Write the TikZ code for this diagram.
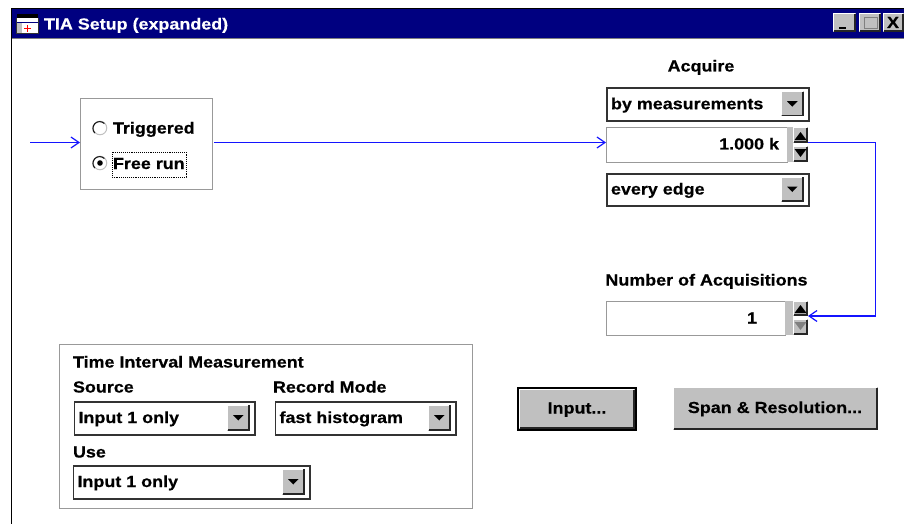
\documentclass[tikz,border=0pt]{standalone}
\usepackage{fontspec}
\setmainfont{Liberation Sans}[FakeStretch=1.12,BoldFeatures={FakeBold=0.5}]
\usetikzlibrary{arrows.meta,calc}
\definecolor{navy}{RGB}{0,0,128}
\definecolor{wingray}{RGB}{192,192,192}
\definecolor{windark}{RGB}{128,128,128}
\definecolor{wire}{RGB}{20,20,255}
\tikzset{
  x=1pt,y=-1pt,
  ui/.style={font=\fontsize{16}{18}\selectfont\bfseries,inner sep=0pt,outer sep=0pt,text=black,text height=11pt,text depth=3pt,yshift=-1.5pt},
  lbl/.style={ui,anchor=west},
  wirel/.style={draw=wire,line width=1.8pt,-{Straight Barb[length=8pt,width=11pt,line width=1.2pt]}},
  panel/.style={draw=windark!80,line width=1.3pt,fill=white},
  fieldbox/.style={draw=black!80,line width=1.6pt,fill=white},
  spinbox/.style={draw=windark!80,line width=1.3pt,fill=white},
  radio/.style={draw=wingray,line width=1pt,circle,minimum size=13.5pt,inner sep=0pt},
}
% raised 3D button: x1 y1 x2 y2
\newcommand{\raisedbtn}[4]{%
  \fill[wingray] (#1,#2) rectangle (#3,#4);
  \draw[white,line width=1.4pt] (#1+.7,#4-1) -- (#1+.7,#2+.7) -- (#3-1,#2+.7);
  \draw[black!85,line width=1.6pt] (#1+.8,#4-.8) -- (#3-.8,#4-.8) -- (#3-.8,#2+.8);
}
% drop-down: name x1 y1 x2 y2 text
\newcommand{\dropbox}[6]{%
  \node[fieldbox,anchor=north west,minimum width=#4-#2,minimum height=#5-#3,inner sep=0pt] (#1) at (#2,#3) {};
  \node[lbl] (#1text) at (#2+5,{(#3+#5)/2}) {#6};
  \raisedbtn{#4-27}{#3+3.5}{#4-4.5}{#5-3.5}
  \fill[black] (#4-21,{(#3+#5)/2-2.5}) -- (#4-10.5,{(#3+#5)/2-2.5}) -- (#4-15.75,{(#3+#5)/2+3}) -- cycle;
}
\begin{document}
\begin{tikzpicture}
\useasboundingbox (0,0) rectangle (904,524);
\fill[white] (0,0) rectangle (904,524);
% window
\fill[navy] (11,9) rectangle (904,38);
\draw[black,line width=1.2pt] (904,8.6) -- (11.6,8.6) -- (11.6,524);
\draw[windark,line width=1pt] (12,38.5) -- (904,38.5);
% title icon
\fill[black] (17,14) rectangle (38,18);
\fill[white] (16,18) rectangle (39,33.5);
\fill[wingray] (16,22) rectangle (22,33.5);
\draw[navy,line width=.9pt] (16,22) -- (39,22);
\draw[black!80,line width=.8pt] (16.4,18) -- (16.4,33.6) -- (38.6,33.6) -- (38.6,18);
\draw[red,line width=1.6pt] (27.5,25) -- (27.5,32) (24,28.5) -- (31,28.5);
\node[lbl,text=white] (title) at (44,24) {TIA Setup (expanded)};
% window buttons
\raisedbtn{833}{13}{856}{32}
\fill[black] (839,27) rectangle (846,29);
\raisedbtn{859}{13}{881}{32}
\draw[windark,line width=1pt] (864,17.5) rectangle (877,29);
\raisedbtn{883}{13}{904}{32}
\node[ui] (closex) at (893,22.5) {X};
% trigger box
\node[panel,anchor=north west,minimum width=132pt,minimum height=91pt] (triggerbox) at (80,98) {};
\node[radio] (radioa) at (100,128) {};
\node[radio] (radiob) at (100,163) {};
\draw[black!90,line width=1.1pt] (radioa.south west) arc[start angle=225,end angle=45,radius=6.75pt];
\draw[black!90,line width=1.1pt] (radiob.south west) arc[start angle=225,end angle=45,radius=6.75pt];
\fill[black] (radiob.center) circle (2.8);
\node[lbl] (triggered) at (113,128) {Triggered};
\node[lbl] (freerun) at (113,163.5) {Free run};
\draw[black,line width=.9pt,densely dotted] (112,152) rectangle (186,177);
% Acquire
\node[ui] (acquire) at (701,66) {Acquire};
\dropbox{bymeas}{606}{87.5}{808}{120}{by measurements}
\node[spinbox,anchor=north west,minimum width=181pt,minimum height=34.5pt] (acqfield) at (606,127) {};
\node[ui,anchor=east] (acqval) at (779,144) {1.000\hspace{5pt}k};
\fill[wingray] (787,127) rectangle (793,162);
\raisedbtn{793}{127}{808}{143}
\raisedbtn{793}{146}{808}{162}
\fill[black] (794.5,140) -- (806.5,140) -- (800.5,132) -- cycle;
\fill[black] (794.5,149) -- (806.5,149) -- (800.5,157) -- cycle;
\coordinate (spinacq) at (808,142.5);
\dropbox{everyedge}{606}{173}{808}{205}{every edge}
% Number of acquisitions
\node[ui] (numacq) at (706.5,280) {Number of Acquisitions};
\node[spinbox,anchor=north west,minimum width=179pt,minimum height=33.5pt] (numfield) at (606,301) {};
\node[ui,anchor=east] (numval) at (757,318) {1};
\fill[wingray] (785,301) rectangle (793,335);
\raisedbtn{793}{301}{808}{316}
\raisedbtn{793}{319}{808}{335}
\fill[black] (794.5,313) -- (806.5,313) -- (800.5,305) -- cycle;
\fill[windark] (794.5,322) -- (806.5,322) -- (800.5,330) -- cycle;
\coordinate (spinnum) at (808,316);
% wires
\coordinate (wirestart) at (30,142.5);
\coordinate (wirebend) at (875.5,142.5);
\draw[wirel] (wirestart) -- (triggerbox.west |- wirestart);
\draw[wirel] (triggerbox.east |- wirestart) ++(1,0) -- (acqfield.west |- wirestart);
\draw[wirel] (spinacq) -- (wirebend) -- (wirebend |- spinnum) -- (spinnum);
% buttons
\draw[black,line width=2pt] (518,388) rectangle (635.5,429.5);
\raisedbtn{519}{389}{634.5}{428.5}
\node[ui] (inputbtn) at (577,408) {Input...};
\raisedbtn{673}{387}{878}{430}
\node[ui] (spanbtn) at (775,407.5) {Span \& Resolution...};
% TIM panel
\node[panel,anchor=north west,minimum width=413pt,minimum height=164pt] (timbox) at (59,344) {};
\node[lbl] (timtitle) at (73,362) {Time Interval Measurement};
\node[lbl] (srclbl) at (73,387) {Source};
\node[lbl] (reclbl) at (273,387) {Record Mode};
\dropbox{srcdrop}{73.5}{401}{254}{434}{Input 1 only}
\dropbox{recdrop}{274.5}{401}{455}{434}{fast histogram}
\node[lbl] (uselbl) at (73,452) {Use};
\dropbox{usedrop}{72.5}{465}{309}{498}{Input 1 only}
\end{tikzpicture}
\end{document}
